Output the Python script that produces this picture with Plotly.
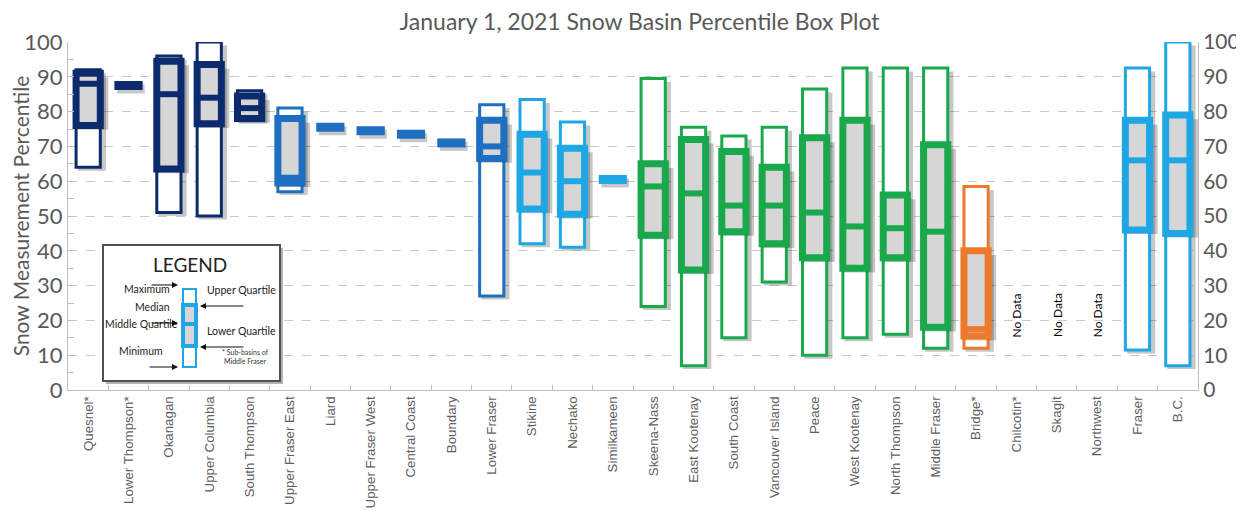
import plotly.graph_objects as go

# basins and percentile summaries
basins = ['Quesnel*', 'Lower Thompson*', 'Okanagan', 'Upper Columbia', 'South Thompson',
          'Upper Fraser East', 'Liard', 'Upper Fraser West', 'Central Coast', 'Boundary',
          'Lower Fraser', 'Stikine', 'Nechako', 'Similkameen', 'Skeena-Nass', 'East Kootenay',
          'South Coast', 'Vancouver Island', 'Peace', 'West Kootenay', 'North Thompson',
          'Middle Fraser', 'Bridge*', 'Chilcotin*', 'Skagit', 'Northwest', 'Fraser', 'B.C.']
mins = [64, 87.5, 51, 50, 77.5, 57, 75.5, 74.5, 73.5, 71, 27, 42, 41, 60.5, 24, 7, 15, 31, 10,
        15, 16, 12, 12, None, None, None, 11.5, 7]
q1s = [76, 87.5, 63.5, 76.5, 78, 59.5, 75.5, 74.5, 73.5, 71, 66.5, 52, 50.5, 60.5, 44.5, 34.5,
       45.5, 42, 38, 35, 38, 18, 15.5, None, None, None, 46, 45]
medians = [88, 87.5, 85, 84, 81, 61, 75.5, 74.5, 73.5, 71, 70, 62.5, 60, 60.5, 58.5, 56.5, 53,
           53, 51, 47, 46.5, 45.5, 17.5, None, None, None, 66, 66]
q3s = [91, 87.5, 94.5, 93.5, 84.5, 78, 75.5, 74.5, 73.5, 71, 77.5, 73.5, 69.5, 60.5, 65, 72,
       68.5, 64, 72.5, 77.5, 56, 70.5, 40, None, None, None, 77.5, 79]
maxs = [92, 87.5, 96, 100, 86, 81, 75.5, 74.5, 73.5, 71, 82, 83.5, 77, 60.5, 89.5, 75.5, 73,
        75.5, 86.5, 92.5, 92.5, 92.5, 58.5, None, None, None, 92.5, 100]

NAVY, MID, LIGHT, GREEN, ORANGE = '#0c2a6e', '#1e6fc1', '#1ea7e4', '#19a84c', '#ec7a2c'
colors = [NAVY] * 5 + [MID] * 6 + [LIGHT] * 3 + [GREEN] * 8 + [ORANGE] + [None] * 3 + [LIGHT] * 2

GRAY_TXT = '#595959'
FILL = '#d6d6d6'
SHADOW = 'rgba(0,0,0,0.22)'
W = 0.6

fig = go.Figure()

boxes = [i for i in range(len(basins)) if mins[i] is not None and maxs[i] > mins[i]]
dashes = [i for i in range(len(basins)) if mins[i] is not None and maxs[i] == mins[i]]
nodata = [i for i in range(len(basins)) if mins[i] is None]

# whisker rectangle (min to max) with shadow
fig.add_trace(go.Bar(
    x=boxes, base=[mins[i] - 1.0 for i in boxes], y=[maxs[i] - mins[i] for i in boxes],
    width=W + 0.1, offset=-(W + 0.1) / 2 + 0.09, marker=dict(color=SHADOW, line_width=0),
    hoverinfo='skip', showlegend=False))
fig.add_trace(go.Bar(
    x=boxes, base=[mins[i] for i in boxes], y=[maxs[i] - mins[i] for i in boxes],
    width=W, marker=dict(color='white', line=dict(color=[colors[i] for i in boxes], width=3)),
    showlegend=False, cliponaxis=False))

# interquartile box with shadow
fig.add_trace(go.Bar(
    x=boxes, base=[q1s[i] - 1.2 for i in boxes], y=[q3s[i] - q1s[i] for i in boxes],
    width=W + 0.2, offset=-(W + 0.2) / 2 + 0.1, marker=dict(color=SHADOW, line_width=0),
    hoverinfo='skip', showlegend=False))
fig.add_trace(go.Bar(
    x=boxes, base=[q1s[i] for i in boxes], y=[q3s[i] - q1s[i] for i in boxes],
    width=W, marker=dict(color=FILL, line=dict(color=[colors[i] for i in boxes], width=7)),
    showlegend=False, cliponaxis=False))

# medians
for i in boxes:
    fig.add_trace(go.Scatter(
        x=[i - W / 2, i + W / 2], y=[medians[i], medians[i]], mode='lines',
        line=dict(color=colors[i], width=6), showlegend=False, hoverinfo='skip'))

# single-value basins drawn as dashes
for i in dashes:
    fig.add_trace(go.Scatter(
        x=[i - 0.28, i + 0.4], y=[medians[i] - 1.0, medians[i] - 1.0], mode='lines',
        line=dict(color=SHADOW, width=9), showlegend=False, hoverinfo='skip'))
    fig.add_trace(go.Scatter(
        x=[i - 0.35, i + 0.35], y=[medians[i], medians[i]], mode='lines',
        line=dict(color=colors[i], width=9), showlegend=False, hoverinfo='skip'))

# right-hand axis carrier
fig.add_trace(go.Scatter(x=[0], y=[0], yaxis='y2', mode='markers',
                         marker=dict(opacity=0), showlegend=False, hoverinfo='skip'))

annotations = []
for i in nodata:
    annotations.append(dict(x=i, y=21.5, xref='x', yref='y', text='No Data', textangle=-90,
                            showarrow=False, font=dict(size=12, color='black', family='Lato')))

# legend inset (paper coords, from screen pixels)
def px(x):
    return (x - 68) / 1130


def py(y):
    return (390 - y) / 348


shapes = [
    dict(type='rect', xref='paper', yref='paper', x0=px(106), x1=px(283), y0=py(384), y1=py(248),
         fillcolor='rgba(0,0,0,0.3)', line_width=0, layer='above'),
    dict(type='rect', xref='paper', yref='paper', x0=px(103), x1=px(280), y0=py(381), y1=py(245),
         fillcolor='white', line=dict(color='#505050', width=2), layer='above'),
    dict(type='rect', xref='paper', yref='paper', x0=px(183), x1=px(196), y0=py(367), y1=py(289),
         fillcolor='white', line=dict(color=LIGHT, width=2), layer='above'),
    dict(type='rect', xref='paper', yref='paper', x0=px(183), x1=px(196), y0=py(346), y1=py(305),
         fillcolor=FILL, line=dict(color=LIGHT, width=4), layer='above'),
    dict(type='line', xref='paper', yref='paper', x0=px(183), x1=px(196), y0=py(324), y1=py(324),
         line=dict(color=LIGHT, width=4), layer='above'),
]

legend_font = dict(size=10.5, color='#222222', family='Lato')
annotations += [
    dict(x=px(190), y=py(264), xref='paper', yref='paper', text='LEGEND', showarrow=False,
         xanchor='center', font=dict(size=19, color='#222222', family='Lato')),
    dict(x=px(172), y=py(297), xref='paper', yref='paper', text='Maximum', showarrow=False,
         xanchor='right', font=legend_font),
    dict(x=px(205), y=py(298), xref='paper', yref='paper', text='Upper Quartile', showarrow=False,
         xanchor='left', font=legend_font),
    dict(x=px(172), y=py(315), xref='paper', yref='paper', text='Median', showarrow=False,
         xanchor='right', font=legend_font),
    dict(x=px(180), y=py(332), xref='paper', yref='paper', text='Middle Quartile', showarrow=False,
         xanchor='right', font=legend_font),
    dict(x=px(205), y=py(339), xref='paper', yref='paper', text='Lower Quartile', showarrow=False,
         xanchor='left', font=legend_font),
    dict(x=px(165), y=py(359), xref='paper', yref='paper', text='Minimum', showarrow=False,
         xanchor='right', font=legend_font),
    dict(x=px(245), y=py(367), xref='paper', yref='paper', text='* Sub-basins of<br>Middle Fraser',
         showarrow=False, xanchor='center', font=dict(size=7, color='#333333', family='Lato')),
]
arrows = [(178, 285, 150, 285), (200, 306, 245, 306), (178, 323, 150, 323),
          (200, 347, 245, 347), (178, 367, 148, 367)]
for hx, hy, tx, ty in arrows:
    annotations.append(dict(x=px(hx), y=py(hy), xref='paper', yref='paper', ax=tx - hx, ay=ty - hy,
                            text='', showarrow=True, arrowhead=2,
                            arrowsize=1, arrowwidth=1.2, arrowcolor='#111111'))

# page body adds an 8px offset, so the figure is sized to fit the window
fig.update_layout(
    width=1236, height=504,
    margin=dict(l=60, r=46, t=34, b=122),
    barmode='overlay',
    plot_bgcolor='white', paper_bgcolor='white',
    title=dict(text='January 1, 2021 Snow Basin Percentile Box Plot', x=0.511, y=0.972,
               xanchor='center', yanchor='middle', font=dict(size=23, color=GRAY_TXT, family='Lato')),
    xaxis=dict(range=[-0.5, len(basins) - 0.5], tickmode='array', tickvals=list(range(len(basins))),
               ticktext=basins, tickangle=-90, showgrid=False, zeroline=False, showline=True,
               automargin=False, linecolor='#bfbfbf', ticks='',
               tickfont=dict(family='Liberation Sans', size=13.3, color='#606060'),
               minor=dict(tickmode='array', tickvals=[i + 0.5 for i in range(len(basins))],
                          ticks='inside', ticklen=5, tickcolor='#bfbfbf', showgrid=False)),
    yaxis=dict(range=[0, 100], dtick=10, showgrid=True, gridcolor='#c8c8c8', griddash='dash',
               zeroline=False, showline=True, linecolor='#bfbfbf', ticks='inside', ticklen=6,
               automargin=False, tickcolor='#bfbfbf', tickfont=dict(size=22, color=GRAY_TXT, family='Lato'),
               minor=dict(dtick=5, ticks='inside', ticklen=6, tickcolor='#bfbfbf', showgrid=False),
               title=dict(text='Snow Measurement Percentile', standoff=4,
                          font=dict(size=21, color=GRAY_TXT, family='Lato'))),
    yaxis2=dict(range=[0, 100], dtick=10, overlaying='y', side='right', showgrid=False,
                zeroline=False, showline=True, linecolor='#bfbfbf', ticks='', automargin=False,
                tickfont=dict(size=21, color=GRAY_TXT, family='Lato')),
    shapes=shapes,
    annotations=annotations,
)

fig.write_html('out.html')
